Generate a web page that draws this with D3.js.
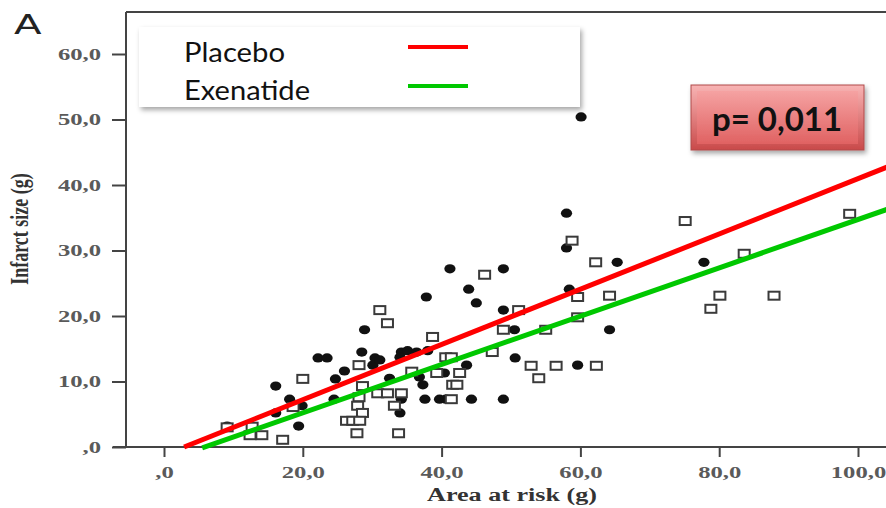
<!DOCTYPE html>
<html lang="en">
<head>
<meta charset="utf-8">
<title>Infarct size vs area at risk</title>
<script src="https://cdnjs.cloudflare.com/ajax/libs/d3/7.8.5/d3.min.js"></script>
<style>
  body { margin: 0; background: #fff; }
  svg { display: block; }
</style>
</head>
<body>
<script>
// placebo: filled dots (area at risk g, infarct size g)
var placeboX = [60.1, 58.0, 58.0, 65.3, 77.8, 58.4, 48.9, 41.2, 43.9, 37.8, 45.0, 48.9, 50.5, 64.2,
                50.6, 59.6, 28.9, 22.2, 23.5, 28.5, 30.4, 26.0, 24.7, 16.1, 18.1, 19.9, 24.5, 16.1,
                19.4, 9.1, 34.2, 35.1, 36.4, 38.0, 30.1, 34.0, 43.6, 36.8, 32.5, 40.4, 37.3, 34.2,
                37.6, 39.7, 40.6, 44.3, 48.9, 34.0, 31.1];
var placeboY = [50.4, 35.7, 30.4, 28.2, 28.2, 24.1, 27.2, 27.2, 24.1, 22.9, 22.0, 20.9, 17.9, 17.9,
                13.6, 12.5, 17.9, 13.6, 13.6, 14.5, 13.6, 11.6, 10.4, 9.3, 7.3, 6.3, 7.3, 5.2,
                3.2, 3.2, 14.5, 14.7, 14.5, 14.7, 12.5, 13.7, 12.5, 10.7, 10.5, 11.3, 9.5, 7.3,
                7.3, 7.3, 7.3, 7.3, 7.3, 5.2, 13.3];

// exenatide: open squares
var exenatideX = [58.8, 62.2, 46.2, 59.6, 64.2, 51.1, 59.6, 48.9, 55.0, 47.3, 52.9, 56.5, 62.3, 54.0,
                  75.1, 98.8, 83.6, 80.1, 87.9, 78.8, 31.1, 32.2, 38.7, 28.1, 40.6, 41.4, 35.7, 39.3,
                  42.6, 28.6, 41.6, 42.2, 34.2, 30.8, 32.2, 41.4, 28.1, 27.9, 33.2, 28.6, 26.3, 27.2,
                  28.2, 27.8, 33.8, 20.0, 18.6, 12.7, 12.4, 14.1, 17.1, 9.1];
var exenatideY = [31.5, 28.2, 26.3, 22.9, 23.1, 20.9, 19.8, 17.9, 17.9, 14.5, 12.4, 12.4, 12.4, 10.5,
                  34.5, 35.6, 29.5, 23.1, 23.1, 21.1, 20.9, 18.9, 16.8, 12.5, 13.7, 13.7, 11.5, 11.3,
                  11.3, 9.3, 9.5, 9.5, 8.2, 8.2, 8.2, 7.3, 7.6, 6.3, 6.3, 5.2, 4.0, 4.0,
                  4.0, 2.1, 2.1, 10.4, 6.1, 3.1, 1.8, 1.8, 1.1, 3.0];

// regression lines: placebo, exenatide
var fitNames = ["Placebo", "Exenatide"];
var fitSlope = [0.4218, 0.369];
var fitIntercept = [-1.22, -2.17];
var fitFrom = [2.9, 5.5];
var fitTo = [104.5, 104.5];
var fitColors = ["#ff0000", "#00c800"];

var xTicks = [0, 20, 40, 60, 80, 100];
var yTicks = [0, 10, 20, 30, 40, 50, 60];
var pText = "p= 0,011";

var W = 886, H = 508;
var x = d3.scaleLinear().domain([0, 100]).range([164, 858]);
var y = d3.scaleLinear().domain([0, 60]).range([447, 54]);

var fmt = function(d) { return d === 0 ? ",0" : d3.format(".1f")(d).replace(".", ","); };

var svg = d3.select("body").append("svg")
    .attr("width", W)
    .attr("height", H);

var defs = svg.append("defs");
var sh = defs.append("filter").attr("id", "shadow")
    .attr("x", "-10%").attr("y", "-20%").attr("width", "130%").attr("height", "160%");
sh.append("feDropShadow").attr("dx", 2).attr("dy", 3).attr("stdDeviation", 2.5)
    .attr("flood-color", "#000").attr("flood-opacity", 0.35);

var g1 = defs.append("linearGradient").attr("id", "pOuter").attr("x1", 0).attr("y1", 0).attr("x2", 0).attr("y2", 1);
g1.append("stop").attr("offset", "0%").attr("stop-color", "#f8b4b4");
g1.append("stop").attr("offset", "100%").attr("stop-color", "#c94a4a");
var g2 = defs.append("linearGradient").attr("id", "pInner").attr("x1", 0).attr("y1", 0).attr("x2", 0).attr("y2", 1);
g2.append("stop").attr("offset", "0%").attr("stop-color", "#f5a2a2");
g2.append("stop").attr("offset", "100%").attr("stop-color", "#e06262");

// stretch text horizontally like the scanned figure
function stretch(sel, k) {
  sel.each(function() {
    var w = this.getComputedTextLength();
    d3.select(this).attr("textLength", w * k).attr("lengthAdjust", "spacingAndGlyphs");
  });
}

// frame
svg.append("line").attr("x1", 126).attr("x2", W).attr("y1", 12).attr("y2", 12)
    .attr("stroke", "#444").attr("stroke-width", 2);
svg.append("line").attr("x1", 126).attr("x2", 126).attr("y1", 12).attr("y2", 448)
    .attr("stroke", "#444").attr("stroke-width", 2);
svg.append("line").attr("x1", 113).attr("x2", W).attr("y1", 447).attr("y2", 447)
    .attr("stroke", "#444").attr("stroke-width", 2);

// y axis
var yAxis = svg.append("g")
    .attr("transform", "translate(126,0)")
    .call(d3.axisLeft(y).tickValues(yTicks).tickSize(14).tickPadding(11).tickFormat(fmt));
yAxis.select(".domain").remove();
yAxis.selectAll("line").attr("stroke", "#444").attr("stroke-width", 2);
yAxis.selectAll("text")
    .style("font-family", "'Liberation Serif', serif")
    .style("font-weight", "bold")
    .style("font-size", "17px")
    .attr("fill", "#5a5a5a")
    .call(stretch, 1.45);

// x axis
var xAxis = svg.append("g")
    .attr("transform", "translate(0,447)")
    .call(d3.axisBottom(x).tickValues(xTicks).tickSize(10).tickPadding(9).tickFormat(fmt));
xAxis.select(".domain").remove();
xAxis.selectAll("line").attr("stroke", "#444").attr("stroke-width", 2);
xAxis.selectAll("text")
    .style("font-family", "'Liberation Serif', serif")
    .style("font-weight", "bold")
    .style("font-size", "17px")
    .attr("fill", "#5a5a5a")
    .call(stretch, 1.45);

// axis titles
svg.append("text")
    .attr("x", 512).attr("y", 501)
    .attr("text-anchor", "middle")
    .style("font-family", "'Liberation Serif', serif")
    .style("font-weight", "bold")
    .style("font-size", "18px")
    .attr("fill", "#333")
    .text("Area at risk (g)")
    .call(stretch, 1.45);

svg.append("text")
    .attr("transform", "translate(28,229) scale(1.45,1) rotate(-90)")
    .attr("text-anchor", "middle")
    .style("font-family", "'Liberation Serif', serif")
    .style("font-weight", "bold")
    .style("font-size", "18px")
    .attr("fill", "#333")
    .text("Infarct size (g)");

// panel letter
svg.append("text")
    .attr("x", 14).attr("y", 34)
    .style("font-family", "'DejaVu Sans', sans-serif")
    .style("font-size", "26px")
    .attr("fill", "#222")
    .text("A")
    .call(stretch, 1.55);

// placebo dots
svg.append("g").selectAll("ellipse")
    .data(placeboX.map(function(v, i) { return [v, placeboY[i]]; }))
    .enter().append("ellipse")
    .attr("cx", function(d) { return x(d[0]); })
    .attr("cy", function(d) { return y(d[1]); })
    .attr("rx", 5.6)
    .attr("ry", 4.6)
    .attr("fill", "#111");

// exenatide squares
svg.append("g").selectAll("rect")
    .data(exenatideX.map(function(v, i) { return [v, exenatideY[i]]; }))
    .enter().append("rect")
    .attr("x", function(d) { return x(d[0]) - 5.5; })
    .attr("y", function(d) { return y(d[1]) - 4; })
    .attr("width", 11)
    .attr("height", 8)
    .attr("fill", "#fff")
    .attr("stroke", "#3a3a3a")
    .attr("stroke-width", 2);

// regression lines
var line = d3.line().x(function(d) { return x(d[0]); }).y(function(d) { return y(d[1]); });
svg.append("g").selectAll("path")
    .data(fitNames.map(function(n, i) {
      return [[fitFrom[i], fitSlope[i] * fitFrom[i] + fitIntercept[i]],
              [fitTo[i], fitSlope[i] * fitTo[i] + fitIntercept[i]]];
    }))
    .enter().append("path")
    .attr("d", line)
    .attr("fill", "none")
    .attr("stroke", function(d, i) { return fitColors[i]; })
    .attr("stroke-width", 5);

// legend
var legend = svg.append("g");
legend.append("rect")
    .attr("x", 139).attr("y", 27).attr("width", 441).attr("height", 80)
    .attr("fill", "#fff")
    .attr("filter", "url(#shadow)");
fitNames.forEach(function(n, i) {
  legend.append("text")
      .attr("x", 184).attr("y", 62 + i * 38)
      .style("font-family", "Lato, sans-serif")
      .style("font-size", "26px")
      .attr("fill", "#111")
      .attr("textLength", i === 0 ? 101 : 126)
      .attr("lengthAdjust", "spacingAndGlyphs")
      .text(n);
  legend.append("line")
      .attr("x1", 408).attr("x2", 468)
      .attr("y1", 47 + i * 39).attr("y2", 47 + i * 39)
      .attr("stroke", fitColors[i])
      .attr("stroke-width", 4);
});

// p-value badge
var badge = svg.append("g").attr("filter", "url(#shadow)");
badge.append("rect")
    .attr("x", 691).attr("y", 85).attr("width", 173).attr("height", 65)
    .attr("fill", "url(#pOuter)")
    .attr("stroke", "#b04a4a").attr("stroke-width", 1);
badge.append("rect")
    .attr("x", 697).attr("y", 91).attr("width", 161).attr("height", 53)
    .attr("fill", "url(#pInner)");
svg.append("text")
    .attr("x", 777).attr("y", 131)
    .attr("text-anchor", "middle")
    .style("font-family", "Lato, sans-serif")
    .style("font-weight", "bold")
    .style("font-size", "33px")
    .attr("fill", "#111")
    .text(pText);
</script>
</body>
</html>
